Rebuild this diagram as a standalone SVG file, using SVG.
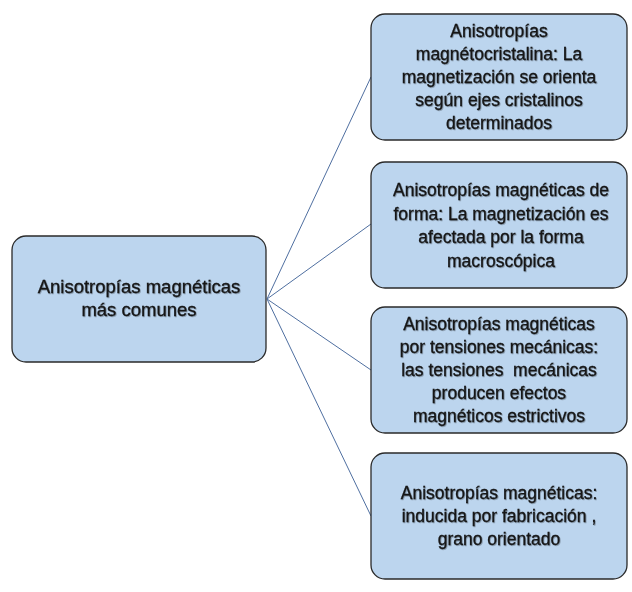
<svg xmlns="http://www.w3.org/2000/svg" width="632" height="592" viewBox="0 0 632 592">
<defs>
<filter id="sh" x="-10%" y="-10%" width="120%" height="130%">
<feDropShadow dx="0.8" dy="0.8" stdDeviation="0.4" flood-color="#000" flood-opacity="0.35"/>
</filter>
</defs>
<style>
.box{fill:#BCD5EE;stroke:#2a2a2a;stroke-width:1.3}
.t{font-family:"Liberation Sans",Arial,sans-serif;font-size:17.5px;fill:#141414;stroke:#141414;stroke-width:0.3;text-anchor:middle;filter:url(#sh)}
.c{stroke:#4F6FA0;stroke-width:1;fill:none}
</style>
<rect width="632" height="592" fill="#fff"/>
<g id="connectors">
<line class="c" x1="267" y1="299" x2="371" y2="77"/>
<line class="c" x1="267" y1="299" x2="371" y2="224"/>
<line class="c" x1="267" y1="299" x2="371" y2="370"/>
<line class="c" x1="267" y1="299" x2="371" y2="516"/>
</g>
<g id="root">
<rect class="box" x="12" y="236" width="254" height="126" rx="14"/>
<text class="t" x="139" y="293" style="font-size:18.5px">Anisotropías magnéticas</text>
<text class="t" x="139" y="316" style="font-size:18.5px">más comunes</text>
</g>
<g id="n1">
<rect class="box" x="371" y="14" width="256" height="126" rx="14"/>
<text class="t" x="499" y="37">Anisotropías</text>
<text class="t" x="499" y="60">magnétocristalina: La</text>
<text class="t" x="499" y="83">magnetización se orienta</text>
<text class="t" x="499" y="106">según ejes cristalinos</text>
<text class="t" x="499" y="129">determinados</text>
</g>
<g id="n2">
<rect class="box" x="371" y="162" width="256" height="126" rx="14"/>
<text class="t" x="501" y="196">Anisotropías magnéticas de</text>
<text class="t" x="501" y="219.5">forma: La magnetización es</text>
<text class="t" x="501" y="243">afectada por la forma</text>
<text class="t" x="501" y="266.5">macroscópica</text>
</g>
<g id="n3">
<rect class="box" x="371" y="307" width="256" height="126" rx="14"/>
<text class="t" x="499" y="330">Anisotropías magnéticas</text>
<text class="t" x="499" y="353">por tensiones mecánicas:</text>
<text class="t" x="499" y="376" xml:space="preserve">las tensiones  mecánicas</text>
<text class="t" x="499" y="399">producen efectos</text>
<text class="t" x="499" y="422">magnéticos estrictivos</text>
</g>
<g id="n4">
<rect class="box" x="371" y="453" width="256" height="126" rx="14"/>
<text class="t" x="499" y="499">Anisotropías magnéticas:</text>
<text class="t" x="499" y="522">inducida por fabricación ,</text>
<text class="t" x="499" y="545">grano orientado</text>
</g>
</svg>
